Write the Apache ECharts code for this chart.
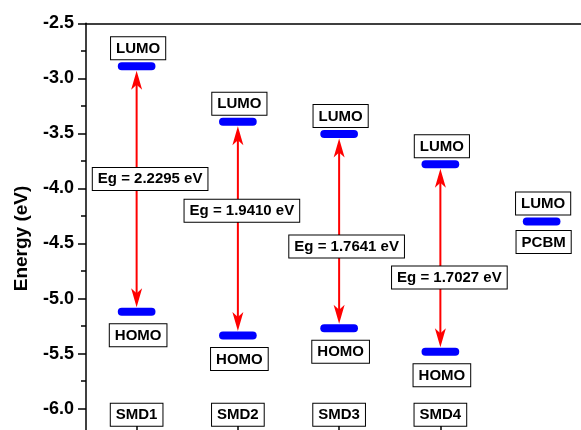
<!DOCTYPE html>
<html>
<head>
<meta charset="utf-8">
<title>Energy levels</title>
<script src="https://cdn.jsdelivr.net/npm/echarts@6/dist/echarts.min.js"></script>
<style>
  html, body { margin: 0; padding: 0; background: #fff; }
  #chart { width: 581px; height: 430px; }
</style>
</head>
<body>
<div id="chart"></div>
<script>
// Frontier orbital levels (eV) of the donors and the PCBM acceptor
const categories = ['SMD1', 'SMD2', 'SMD3', 'SMD4', 'PCBM'];
const lumo = [-2.8905, -3.3945, -3.5064, -3.7813, -4.30];
const homo = [-5.1200, -5.3355, -5.2705, -5.4840, null];

// Energy axis range and step
const yMin = -6.5;
const yMax = -2.5;
const yStep = 0.5;

// Where the band-gap boxes sit along each arrow (energy value, px shift to the right)
const gapLabelAt = [-3.914, -4.203, -4.527, -4.809];
const gapLabelShift = [13.5, 4, 7.5, 9];

const FAMILY = '"Liberation Sans", Arial, sans-serif';
const FONT = 'bold 15px ' + FAMILY;
const BAR_W = 37.7, BAR_H = 8;
const TIP = 4.5;          // arrow tip stops just short of the level centre
const HEAD_LEN = 19, HEAD_NOTCH = 14, HEAD_HALF = 5.5;

function textBox(text, x, y, vAlign) {
  return {
    type: 'text',
    z2: 10,
    style: {
      text: text, x: x, y: y,
      align: 'center', verticalAlign: vAlign,
      font: FONT, fill: '#000',
      backgroundColor: '#fff', borderColor: '#000', borderWidth: 1,
      padding: [3, 5, 2, 5], lineHeight: 17
    }
  };
}

function level(cx, cy) {
  return {
    type: 'rect', z2: 5,
    shape: { x: cx - BAR_W / 2, y: cy - BAR_H / 2, width: BAR_W, height: BAR_H, r: BAR_H / 2 },
    style: { fill: '#0000ff' }
  };
}

function arrowHead(cx, tipY, dir) {
  return {
    type: 'polygon', z2: 3,
    shape: { points: [
      [cx, tipY],
      [cx - HEAD_HALF, tipY + dir * HEAD_LEN],
      [cx, tipY + dir * HEAD_NOTCH],
      [cx + HEAD_HALF, tipY + dir * HEAD_LEN]
    ] },
    style: { fill: '#ff0000' }
  };
}

function renderItem(params, api) {
  const i = params.dataIndex;
  const up = api.coord([i, lumo[i]]);
  const cx = up[0];
  const children = [];
  if (homo[i] != null) {
    const down = api.coord([i, homo[i]]);
    const yTop = up[1] + TIP;
    const yBot = down[1] - TIP;
    children.push({
      type: 'line', z2: 2,
      shape: { x1: cx, y1: yTop + HEAD_NOTCH - 1, x2: cx, y2: yBot - HEAD_NOTCH + 1 },
      style: { stroke: '#ff0000', lineWidth: 2 }
    });
    children.push(arrowHead(cx, yTop, 1));
    children.push(arrowHead(cx, yBot, -1));
    const g = api.coord([i, gapLabelAt[i]]);
    const eg = (lumo[i] - homo[i]).toFixed(4);
    children.push(textBox('Eg = ' + eg + ' eV', cx + gapLabelShift[i], g[1], 'middle'));
    children.push(level(cx, down[1]));
    children.push(textBox('HOMO', cx + 1.5, down[1] + 12.5, 'top'));
  } else {
    children.push(textBox(categories[i], cx + 2, up[1] + 9.5, 'top'));
  }
  children.push(level(cx, up[1]));
  children.push(textBox('LUMO', cx + 1.5, up[1] - 7, 'bottom'));
  return { type: 'group', children: children };
}

const chart = echarts.init(document.getElementById('chart'), null, { renderer: 'canvas' });

chart.setOption({
  animation: false,
  backgroundColor: '#ffffff',
  grid: { left: 86, top: 23.3, width: 506.25, height: 440.4, outerBoundsMode: 'none', containLabel: false },
  xAxis: [
    {
      type: 'category',
      data: categories,
      position: 'bottom',
      offset: -31,
      boundaryGap: true,
      axisLine: { show: false },
      axisTick: { show: true, inside: true, alignWithLabel: true, length: 8,
        lineStyle: { color: '#000', width: 1.5 } },
      axisLabel: {
        show: true, inside: true, margin: 7,
        interval: function (idx) { return idx < 4; },
        color: '#000', fontFamily: FAMILY,
        fontWeight: 'bold', fontSize: 15, lineHeight: 17,
        backgroundColor: '#fff', borderColor: '#000', borderWidth: 1,
        padding: [3, 5, 2, 5]
      },
      splitLine: { show: false }
    },
    {
      type: 'category',
      data: categories,
      position: 'top',
      axisLine: { show: true, lineStyle: { color: '#000', width: 1.5 } },
      axisTick: { show: false },
      axisLabel: { show: false },
      splitLine: { show: false }
    }
  ],
  yAxis: {
    type: 'value',
    min: yMin, max: yMax, interval: yStep,
    name: 'Energy (eV)',
    nameLocation: 'middle',
    nameRotate: 90,
    nameGap: 55,
    nameTextStyle: { color: '#000', fontFamily: FAMILY, fontWeight: 'bold', fontSize: 19,
      padding: [0, 0, 0, 10] },
    axisLine: { show: true, lineStyle: { color: '#000', width: 1.5 } },
    axisTick: { show: true, inside: false, length: 8, lineStyle: { color: '#000', width: 1.5 } },
    minorTick: { show: true, splitNumber: 2, length: 5, lineStyle: { color: '#000', width: 1.5 } },
    axisLabel: {
      margin: 12, color: '#000',
      fontFamily: FAMILY, fontWeight: 'bold', fontSize: 18,
      formatter: function (v) { return v.toFixed(1); }
    },
    splitLine: { show: false }
  },
  series: [
    {
      type: 'custom',
      xAxisIndex: 0,
      renderItem: renderItem,
      data: categories.map(function (c, i) { return [i, lumo[i]]; }),
      clip: false
    }
  ]
});
</script>
</body>
</html>
